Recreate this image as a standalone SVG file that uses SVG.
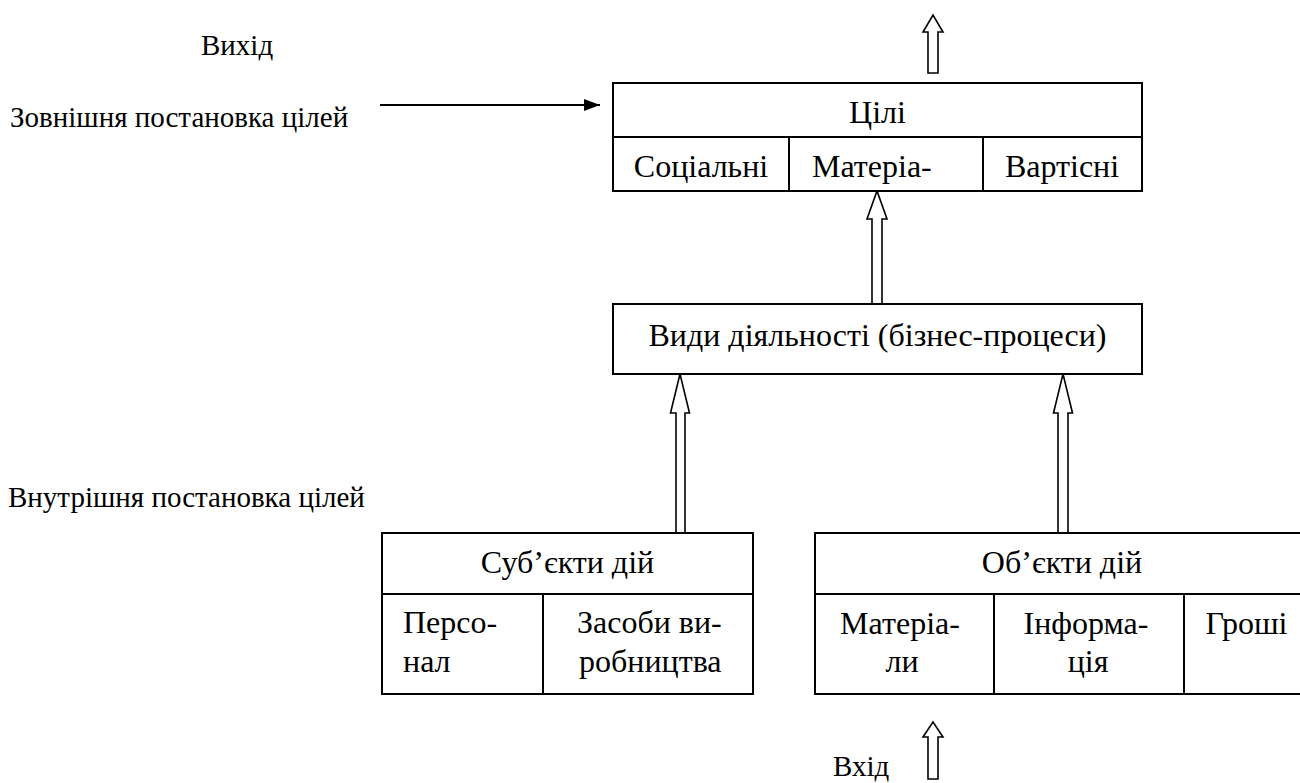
<svg xmlns="http://www.w3.org/2000/svg" width="1300" height="783" viewBox="0 0 1300 783">
<style>
.box{fill:#fff;stroke:#000;stroke-width:2}
.ln{stroke:#000;stroke-width:2;fill:none}
.arr{fill:#fff;stroke:#000;stroke-width:1.6;stroke-linejoin:miter}
.t{font-family:'Liberation Serif','Times New Roman',serif;font-size:32px;fill:#000}
.lb{font-family:'Liberation Serif','Times New Roman',serif;font-size:29px;fill:#000}
.c{text-anchor:middle}
</style>
<defs>
<marker id="ah" markerWidth="16" markerHeight="12" refX="16" refY="6" orient="auto" markerUnits="userSpaceOnUse">
<path d="M0,0 L16,6 L0,12 z" fill="#000"/>
</marker>
</defs>
<rect width="1300" height="783" fill="#fff"/>

<g id="labels">
<text class="lb" x="201" y="55">Вихід</text>
<text class="lb" x="10" y="127">Зовнішня постановка цілей</text>
<text class="lb" x="8" y="507">Внутрішня постановка цілей</text>
<text class="lb" x="833" y="776">Вхід</text>
</g>

<g id="connectors">
<line class="ln" x1="380" y1="105" x2="600" y2="105" marker-end="url(#ah)"/>
<polygon class="arr" points="928,73 928,32 923,32 933,15 943,32 938,32 938,73"/>
<polygon class="arr" points="872,304 872,219 867,219 877,191 887,219 882,219 882,304"/>
<polygon class="arr" points="676,533 676,413 670.5,413 680,374 689.5,413 685,413 685,533"/>
<polygon class="arr" points="1058,533 1058,413 1053.5,413 1063,374 1072.5,413 1068,413 1068,533"/>
<polygon class="arr" points="928,779 928,737 923,737 933,722 943,737 938,737 938,779"/>
</g>

<g id="goals">
<rect class="box" x="613" y="83" width="529" height="108"/>
<line class="ln" x1="613" y1="137" x2="1142" y2="137"/>
<line class="ln" x1="789" y1="137" x2="789" y2="191"/>
<line class="ln" x1="983" y1="137" x2="983" y2="191"/>
<text class="t c" x="877.5" y="123">Цілі</text>
<text class="t c" x="701" y="177">Соціальні</text>
<text class="t" x="812" y="177">Матеріа-</text>
<text class="t c" x="1062" y="177">Вартісні</text>
</g>

<g id="activities">
<rect class="box" x="613" y="304" width="529" height="70"/>
<text class="t c" x="877.5" y="346">Види діяльності (бізнес-процеси)</text>
</g>

<g id="subjects">
<rect class="box" x="382" y="533" width="371" height="161"/>
<line class="ln" x1="382" y1="594" x2="753" y2="594"/>
<line class="ln" x1="543" y1="594" x2="543" y2="694"/>
<text class="t c" x="567.5" y="573">Суб’єкти дій</text>
<text class="t" x="403" y="633">Персо-</text>
<text class="t" x="403" y="672">нал</text>
<text class="t" x="577" y="633">Засоби ви-</text>
<text class="t" x="579" y="672">робництва</text>
</g>

<g id="objects">
<rect class="box" x="815" y="533" width="494" height="161"/>
<line class="ln" x1="815" y1="594" x2="1309" y2="594"/>
<line class="ln" x1="994" y1="594" x2="994" y2="694"/>
<line class="ln" x1="1184" y1="594" x2="1184" y2="694"/>
<text class="t c" x="1062" y="573">Об’єкти дій</text>
<text class="t c" x="900" y="634">Матеріа-</text>
<text class="t c" x="902" y="672">ли</text>
<text class="t c" x="1086" y="634">Інформа-</text>
<text class="t c" x="1088" y="672">ція</text>
<text class="t c" x="1246.5" y="634">Гроші</text>
</g>
</svg>
